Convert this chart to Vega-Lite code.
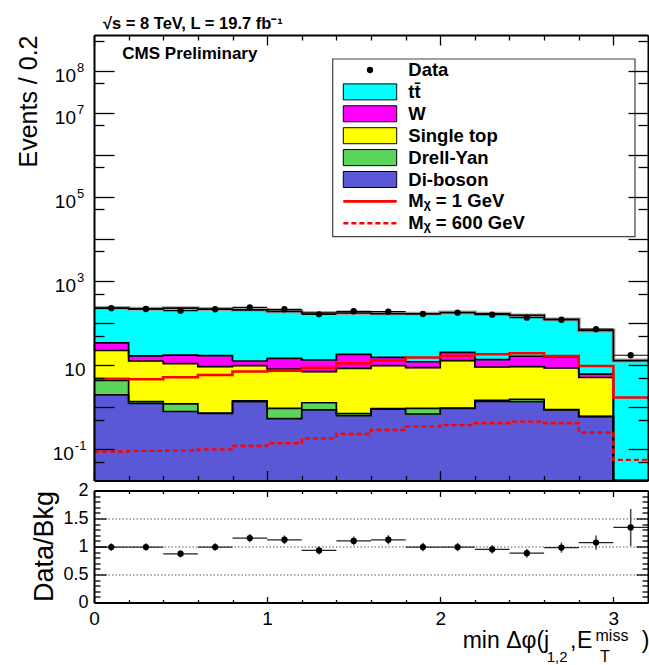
{
  "$schema": "https://vega.github.io/schema/vega-lite/v6.json",
  "autosize": {"type": "none"},
  "padding": {"left": 94, "top": 35, "right": 555, "bottom": 630},
  "background": "white",
  "config": {
    "font": "Liberation Sans",
    "view": {"stroke": null},
    "axis": {
      "labelFont": "Liberation Sans", "titleFont": "Liberation Sans",
      "labelColor": "black", "titleColor": "black", "domainColor": "black", "tickColor": "black",
      "titleFontWeight": "normal", "grid": false, "labelFlush": false, "labelOverlap": false,
      "domainWidth": 2, "tickWidth": 1.3
    }
  },
  "datasets": {
    "bins": [
      {"x0": 0.0, "x1": 0.2, "xc": 0.1, "diboson": 1.93, "drellyan": 2.33, "singletop": 17.8, "wjets": 11.5, "ttbar": 191.4, "data": 223, "m1": 4.68, "m600": 0.087, "ratio": 0.99, "rlo": 0.924, "rhi": 1.056},
      {"x0": 0.2, "x1": 0.4, "xc": 0.3, "diboson": 1.22, "drellyan": 0.13, "singletop": 11.05, "wjets": 4.1, "ttbar": 199.5, "data": 214, "m1": 4.55, "m600": 0.090, "ratio": 0.99, "rlo": 0.922, "rhi": 1.058},
      {"x0": 0.4, "x1": 0.6, "xc": 0.5, "diboson": 0.78, "drellyan": 0.40, "singletop": 9.6, "wjets": 6.4, "ttbar": 206.8, "data": 195, "m1": 5.08, "m600": 0.092, "ratio": 0.87, "rlo": 0.808, "rhi": 0.932},
      {"x0": 0.6, "x1": 0.8, "xc": 0.7, "diboson": 0.70, "drellyan": 0.01, "singletop": 8.37, "wjets": 7.5, "ttbar": 196.4, "data": 211, "m1": 5.76, "m600": 0.098, "ratio": 0.99, "rlo": 0.922, "rhi": 1.058},
      {"x0": 0.8, "x1": 1.0, "xc": 0.9, "diboson": 1.33, "drellyan": 0.07, "singletop": 8.19, "wjets": 2.81, "ttbar": 191.6, "data": 235, "m1": 6.98, "m600": 0.118, "ratio": 1.15, "rlo": 1.075, "rhi": 1.225},
      {"x0": 1.0, "x1": 1.2, "xc": 1.1, "diboson": 0.53, "drellyan": 0.40, "singletop": 7.07, "wjets": 6.4, "ttbar": 173.6, "data": 211, "m1": 7.29, "m600": 0.137, "ratio": 1.12, "rlo": 1.043, "rhi": 1.197},
      {"x0": 1.2, "x1": 1.4, "xc": 1.3, "diboson": 0.85, "drellyan": 0.41, "singletop": 5.64, "wjets": 6.2, "ttbar": 158.9, "data": 160, "m1": 8.60, "m600": 0.180, "ratio": 0.93, "rlo": 0.856, "rhi": 1.004},
      {"x0": 1.4, "x1": 1.6, "xc": 1.5, "diboson": 0.62, "drellyan": 0.08, "singletop": 7.62, "wjets": 9.6, "ttbar": 154.1, "data": 189, "m1": 10.9, "m600": 0.228, "ratio": 1.10, "rlo": 1.02, "rhi": 1.18},
      {"x0": 1.6, "x1": 1.8, "xc": 1.7, "diboson": 0.89, "drellyan": 0.02, "singletop": 8.68, "wjets": 5.6, "ttbar": 149.8, "data": 185, "m1": 12.8, "m600": 0.283, "ratio": 1.12, "rlo": 1.038, "rhi": 1.202},
      {"x0": 1.8, "x1": 2.0, "xc": 1.9, "diboson": 0.68, "drellyan": 0.25, "singletop": 7.67, "wjets": 3.3, "ttbar": 153.1, "data": 163, "m1": 15.0, "m600": 0.340, "ratio": 0.99, "rlo": 0.913, "rhi": 1.067},
      {"x0": 2.0, "x1": 2.2, "xc": 2.1, "diboson": 0.92, "drellyan": 0.02, "singletop": 11.66, "wjets": 7.4, "ttbar": 157.0, "data": 175, "m1": 16.5, "m600": 0.373, "ratio": 0.99, "rlo": 0.915, "rhi": 1.065},
      {"x0": 2.2, "x1": 2.4, "xc": 2.3, "diboson": 1.35, "drellyan": 0.09, "singletop": 7.49, "wjets": 4.4, "ttbar": 151.7, "data": 157, "m1": 18.0, "m600": 0.409, "ratio": 0.95, "rlo": 0.874, "rhi": 1.026},
      {"x0": 2.4, "x1": 2.6, "xc": 2.5, "diboson": 1.33, "drellyan": 0.18, "singletop": 7.57, "wjets": 7.0, "ttbar": 134.9, "data": 133, "m1": 18.9, "m600": 0.447, "ratio": 0.88, "rlo": 0.804, "rhi": 0.956},
      {"x0": 2.6, "x1": 2.8, "xc": 2.7, "diboson": 0.85, "drellyan": 0.01, "singletop": 7.6, "wjets": 7.0, "ttbar": 105.5, "data": 119, "m1": 16.3, "m600": 0.409, "ratio": 0.98, "rlo": 0.89, "rhi": 1.07},
      {"x0": 2.8, "x1": 3.0, "xc": 2.9, "diboson": 0.59, "drellyan": 0.01, "singletop": 4.42, "wjets": 1.0, "ttbar": 60.4, "data": 71, "m1": 9.44, "m600": 0.247, "ratio": 1.07, "rlo": 0.943, "rhi": 1.197},
      {"x0": 3.0, "x1": 3.2, "xc": 3.1, "diboson": 0.004, "drellyan": 0.004, "singletop": 0.004, "wjets": 0.004, "ttbar": 12.7, "data": 17, "m1": 1.68, "m600": 0.055, "ratio": 1.34, "rlo": 1.01, "rhi": 1.67}
    ],
    "legend": [
      {"label": "Data", "key": "data", "kind": "marker"},
      {"label": "tt̄", "key": "ttbar", "kind": "box"},
      {"label": "W", "key": "wjets", "kind": "box"},
      {"label": "Single top", "key": "singletop", "kind": "box"},
      {"label": "Drell-Yan", "key": "drellyan", "kind": "box"},
      {"label": "Di-boson", "key": "diboson", "kind": "box"},
      {"label": "Mᵪ = 1 GeV", "key": "m1", "kind": "line"},
      {"label": "Mᵪ = 600 GeV", "key": "m600", "kind": "dash"}
    ]
  },
  "spacing": 9.5,
  "bounds": "flush",
  "vconcat": [
    {
      "width": 554,
      "height": 445.5,
      "layer": [
        {
          "layer": [
            {
              "data": {"name": "bins"},
              "transform": [
                {"fold": ["diboson", "drellyan", "singletop", "wjets", "ttbar"], "as": ["process", "n"]},
                {"stack": "n", "groupby": ["x0"], "as": ["lo", "hi"]}
              ],
              "mark": {"type": "rect", "strokeWidth": 0.8},
              "encoding": {
                "x": {"field": "x0", "type": "quantitative", "scale": {"domain": [0, 3.2], "nice": false, "zero": false},
                  "axis": {"orient": "bottom", "values": [0, 0.2, 0.4, 0.6, 0.8, 1, 1.2, 1.4, 1.6, 1.8, 2, 2.2, 2.4, 2.6, 2.8, 3],
                    "tickSize": {"condition": {"test": "abs(datum.value - round(datum.value)) < 0.001", "value": -10}, "value": -5},
                    "labels": false, "title": null, "zindex": 1}},
                "x2": {"field": "x1"},
                "y": {"field": "lo", "type": "quantitative", "scale": {"type": "log", "domain": [0.0178, 708000000], "nice": false, "clamp": true},
                  "axis": {"orient": "left",
                    "values": [0.05, 0.1, 0.5, 1, 5, 10, 50, 100, 500, 1000, 5000, 10000, 50000, 100000, 500000, 1000000, 5000000, 10000000, 50000000, 100000000, 500000000],
                    "tickSize": {"condition": {"test": "abs(log(datum.value)/LN10 - round(log(datum.value)/LN10)) < 0.01", "value": -20}, "value": -10},
                    "labelExpr": "(datum.value == 0.1 || datum.value == 10 || datum.value == 1000 || datum.value == 100000 || datum.value == 10000000 || datum.value == 100000000) ? '10' : ''",
                    "labelFontSize": 19, "labelBaseline": "alphabetic", "labelAlign": "right", "labelOffset": 10.5,
                    "labelPadding": {"condition": [{"test": "datum.value == 0.1", "value": 40.7}, {"test": "datum.value == 10", "value": 29}], "value": 38.5},
                    "title": "Events / 0.2", "titleFontSize": 25, "titleAngle": 270, "titleAlign": "right", "titleBaseline": "alphabetic", "titleX": -58, "titleY": 0,
                    "zindex": 1}},
                "y2": {"field": "hi"},
                "color": {"field": "process", "type": "nominal",
                  "scale": {"domain": ["diboson", "drellyan", "singletop", "wjets", "ttbar"], "range": ["#5a58d6", "#5bd55b", "#ffff00", "#ff00ff", "#00ffff"]},
                  "legend": null},
                "stroke": {"field": "process", "type": "nominal",
                  "scale": {"domain": ["diboson", "drellyan", "singletop", "wjets", "ttbar"], "range": ["#5a58d6", "#5bd55b", "#ffff00", "#ff00ff", "#00ffff"]},
                  "legend": null}
              }
            },
            {
              "data": {"name": "bins"},
              "transform": [
                {"fold": ["diboson", "drellyan", "singletop", "wjets", "ttbar"], "as": ["process", "n"]},
                {"stack": "n", "groupby": ["x0"], "as": ["lo", "hi"]},
                {"filter": "datum.process == 'ttbar'"},
                {"fold": ["x0", "x1"], "as": ["edge", "xe"]}
              ],
              "mark": {"type": "line", "color": "#a0a0a0", "strokeWidth": 4},
              "encoding": {
                "x": {"field": "xe", "type": "quantitative", "axis": null},
                "y": {"field": "hi", "type": "quantitative",
                  "axis": {"orient": "left", "values": [0.1, 1000, 100000, 10000000, 100000000],
                    "ticks": false, "tickSize": 0, "domain": false, "title": null,
                    "labelExpr": "datum.value == 0.1 ? '-1' : datum.value == 1000 ? '3' : datum.value == 100000 ? '5' : datum.value == 10000000 ? '7' : '8'",
                    "labelFontSize": 13, "labelAlign": "left", "labelBaseline": "alphabetic", "labelOffset": 0.5,
                    "labelPadding": {"condition": {"test": "datum.value == 0.1", "value": 19.7}, "value": 17.5},
                    "zindex": 1}},
                "order": [{"field": "xe", "type": "quantitative"}, {"field": "edge", "type": "nominal", "sort": "descending"}]
              }
            },
            {
              "data": {"name": "bins"},
              "transform": [
                {"fold": ["diboson", "drellyan", "singletop", "wjets", "ttbar"], "as": ["process", "n"]},
                {"stack": "n", "groupby": ["x0"], "as": ["lo", "hi"]},
                {"fold": ["x0", "x1"], "as": ["edge", "xe"]}
              ],
              "mark": {"type": "line", "color": "black", "strokeWidth": 1.7},
              "encoding": {
                "x": {"field": "xe", "type": "quantitative",
                  "axis": {"orient": "top", "values": [0, 0.2, 0.4, 0.6, 0.8, 1, 1.2, 1.4, 1.6, 1.8, 2, 2.2, 2.4, 2.6, 2.8, 3],
                    "tickSize": {"condition": {"test": "abs(datum.value - round(datum.value)) < 0.001", "value": -10}, "value": -5},
                    "labels": false, "title": null, "zindex": 1}},
                "y": {"field": "hi", "type": "quantitative",
                  "axis": {"orient": "right",
                    "values": [0.05, 0.1, 0.5, 1, 5, 10, 50, 100, 500, 1000, 5000, 10000, 50000, 100000, 500000, 1000000, 5000000, 10000000, 50000000, 100000000, 500000000],
                    "tickSize": {"condition": {"test": "abs(log(datum.value)/LN10 - round(log(datum.value)/LN10)) < 0.01", "value": -20}, "value": -10},
                    "labels": false, "title": null, "zindex": 1}},
                "detail": {"field": "process"},
                "order": [{"field": "xe", "type": "quantitative"}, {"field": "edge", "type": "nominal", "sort": "descending"}]
              }
            },
            {
              "data": {"name": "bins"},
              "transform": [{"fold": ["x0", "x1"], "as": ["edge", "xe"]}],
              "mark": {"type": "line", "color": "#ff0000", "strokeWidth": 2.6},
              "encoding": {
                "x": {"field": "xe", "type": "quantitative", "axis": null},
                "y": {"field": "m1", "type": "quantitative", "axis": null},
                "order": [{"field": "xe", "type": "quantitative"}, {"field": "edge", "type": "nominal", "sort": "descending"}]
              }
            },
            {
              "data": {"name": "bins"},
              "transform": [{"fold": ["x0", "x1"], "as": ["edge", "xe"]}],
              "mark": {"type": "line", "color": "#ff0000", "strokeWidth": 2.4, "strokeDash": [5, 3]},
              "encoding": {
                "x": {"field": "xe", "type": "quantitative", "axis": null},
                "y": {"field": "m600", "type": "quantitative", "axis": null},
                "order": [{"field": "xe", "type": "quantitative"}, {"field": "edge", "type": "nominal", "sort": "descending"}]
              }
            },
            {
              "data": {"name": "bins"},
              "mark": {"type": "rule", "color": "black", "strokeWidth": 1.2},
              "encoding": {
                "x": {"field": "x0", "type": "quantitative", "axis": null},
                "x2": {"field": "x1"},
                "y": {"field": "data", "type": "quantitative", "axis": null}
              }
            },
            {
              "data": {"name": "bins"},
              "mark": {"type": "point", "filled": true, "color": "black", "size": 40, "opacity": 1},
              "encoding": {
                "x": {"field": "xc", "type": "quantitative", "axis": null},
                "y": {"field": "data", "type": "quantitative", "axis": null}
              }
            },
            {
              "data": {"values": [{"t": "CMS Preliminary"}]},
              "mark": {"type": "text", "align": "left", "baseline": "alphabetic", "fontSize": 17, "fontWeight": "bold", "color": "black"},
              "encoding": {
                "x": {"datum": 0.1635, "type": "quantitative", "axis": null},
                "y": {"datum": 187000000, "type": "quantitative", "axis": null},
                "text": {"field": "t"}
              }
            },
            {
              "data": {"values": [{"t": "√s = 8 TeV, L = 19.7 fb⁻¹"}]},
              "mark": {"type": "text", "align": "left", "baseline": "alphabetic", "fontSize": 16.5, "fontWeight": "bold", "color": "black", "dy": -6},
              "encoding": {
                "x": {"datum": 0.052, "type": "quantitative", "axis": null},
                "y": {"datum": 708000000, "type": "quantitative", "axis": null},
                "text": {"field": "t"}
              }
            },
            {
              "data": {"values": [{}]},
              "mark": {"type": "rect", "fill": "white", "stroke": "#444444", "strokeWidth": 1.2},
              "encoding": {
                "x": {"datum": 1.3788, "type": "quantitative", "axis": null},
                "x2": {"datum": 3.1249},
                "y": {"datum": 190000000, "type": "quantitative", "axis": null},
                "y2": {"datum": 11250}
              }
            }
          ],
          "resolve": {"axis": {"x": "independent", "y": "independent"}}
        },
        {
          "data": {"name": "legend"},
          "layer": [
            {
              "transform": [{"filter": "datum.kind == 'box'"}],
              "mark": {"type": "point", "shape": "M-1,-0.3H1V0.3H-1Z", "filled": true, "size": 2852, "stroke": "black", "strokeWidth": 1, "opacity": 1},
              "encoding": {
                "x": {"datum": 1.5942, "type": "quantitative", "axis": null},
                "y": {"field": "label", "type": "nominal", "axis": null,
                  "scale": {"type": "point", "padding": 0, "range": [35, 188.3],
                    "domain": ["Data", "tt̄", "W", "Single top", "Drell-Yan", "Di-boson", "Mᵪ = 1 GeV", "Mᵪ = 600 GeV"]}},
                "color": {"field": "key", "type": "nominal",
                  "scale": {"domain": ["diboson", "drellyan", "singletop", "wjets", "ttbar"], "range": ["#5a58d6", "#5bd55b", "#ffff00", "#ff00ff", "#00ffff"]},
                  "legend": null}
              }
            },
            {
              "transform": [{"filter": "datum.kind == 'line'"}],
              "mark": {"type": "rule", "color": "#ff0000", "strokeWidth": 2.6},
              "encoding": {
                "x": {"datum": 1.4401, "type": "quantitative", "axis": null},
                "x2": {"datum": 1.7485},
                "y": {"field": "label", "type": "nominal", "axis": null}
              }
            },
            {
              "transform": [{"filter": "datum.kind == 'dash'"}],
              "mark": {"type": "rule", "color": "#ff0000", "strokeWidth": 2.4, "strokeDash": [5, 3]},
              "encoding": {
                "x": {"datum": 1.4401, "type": "quantitative", "axis": null},
                "x2": {"datum": 1.7485},
                "y": {"field": "label", "type": "nominal", "axis": null}
              }
            },
            {
              "transform": [{"filter": "datum.kind == 'marker'"}],
              "mark": {"type": "point", "filled": true, "color": "black", "size": 40, "opacity": 1},
              "encoding": {
                "x": {"datum": 1.5942, "type": "quantitative", "axis": null},
                "y": {"field": "label", "type": "nominal", "axis": null}
              }
            },
            {
              "mark": {"type": "text", "align": "left", "baseline": "middle", "fontSize": 18.5, "fontWeight": "bold", "color": "black"},
              "encoding": {
                "x": {"datum": 1.8155, "type": "quantitative", "axis": null},
                "y": {"field": "label", "type": "nominal", "axis": null},
                "text": {"field": "label"}
              }
            }
          ]
        }
      ],
      "resolve": {"scale": {"y": "independent"}, "axis": {"x": "independent", "y": "independent"}}
    },
    {
      "width": 554,
      "height": 112,
      "data": {"name": "bins"},
      "layer": [
        {
          "mark": {"type": "rule", "color": "#222222", "strokeWidth": 1.3},
          "encoding": {
            "x": {"field": "x0", "type": "quantitative", "scale": {"domain": [0, 3.2], "nice": false, "zero": false},
              "axis": {"orient": "bottom", "values": [0, 0.2, 0.4, 0.6, 0.8, 1, 1.2, 1.4, 1.6, 1.8, 2, 2.2, 2.4, 2.6, 2.8, 3],
                "tickSize": {"condition": {"test": "abs(datum.value - round(datum.value)) < 0.001", "value": -6}, "value": -3},
                "labelExpr": "abs(datum.value - round(datum.value)) < 0.001 ? '' + round(datum.value) : ''",
                "labelFontSize": 19, "labelPadding": 12.5, "labelBaseline": "top", "labelAlign": "center",
                "title": null, "zindex": 1}},
            "x2": {"field": "x1"},
            "y": {"field": "ratio", "type": "quantitative", "scale": {"domain": [0, 2], "nice": false, "zero": false},
              "axis": {"orient": "left",
                "values": [0, 0.1, 0.2, 0.3, 0.4, 0.5, 0.6, 0.7, 0.8, 0.9, 1, 1.1, 1.2, 1.3, 1.4, 1.5, 1.6, 1.7, 1.8, 1.9, 2],
                "tickSize": {"condition": {"test": "abs(datum.value*2 - round(datum.value*2)) < 0.001", "value": -12}, "value": -6},
                "labelExpr": "abs(datum.value*2 - round(datum.value*2)) < 0.001 ? '' + round(datum.value*10)/10 : ''",
                "labelFontSize": 18, "labelPadding": 18, "labelBaseline": "middle",
                "title": "Data/Bkg", "titleFontSize": 27, "titleAngle": 270, "titleAlign": "right", "titleBaseline": "alphabetic", "titleX": -41.7, "titleY": 0,
                "zindex": 1}}
          }
        },
        {
          "mark": {"type": "rule", "color": "#444444", "strokeWidth": 1.5},
          "encoding": {
            "x": {"field": "xc", "type": "quantitative",
              "axis": {"orient": "top", "values": [0, 0.2, 0.4, 0.6, 0.8, 1, 1.2, 1.4, 1.6, 1.8, 2, 2.2, 2.4, 2.6, 2.8, 3],
                "tickSize": {"condition": {"test": "abs(datum.value - round(datum.value)) < 0.001", "value": -6}, "value": -3},
                "labels": false, "title": null, "zindex": 1}},
            "y": {"field": "rlo", "type": "quantitative",
              "axis": {"orient": "right",
                "values": [0, 0.1, 0.2, 0.3, 0.4, 0.5, 0.6, 0.7, 0.8, 0.9, 1, 1.1, 1.2, 1.3, 1.4, 1.5, 1.6, 1.7, 1.8, 1.9, 2],
                "tickSize": {"condition": {"test": "abs(datum.value*2 - round(datum.value*2)) < 0.001", "value": -12}, "value": -6},
                "labels": false, "title": null, "zindex": 1}},
            "y2": {"field": "rhi"}
          }
        },
        {
          "mark": {"type": "point", "filled": true, "color": "black", "size": 40, "opacity": 1},
          "encoding": {
            "x": {"field": "xc", "type": "quantitative", "axis": null},
            "y": {"field": "ratio", "type": "quantitative",
              "axis": {"orient": "left", "values": [0.5, 1, 1.5], "grid": true, "gridDash": [1.5, 2], "gridColor": "#555555", "gridWidth": 1,
                "ticks": false, "labels": false, "domain": false, "title": null, "zindex": 0}}
          }
        },
        {
          "data": {"values": [{"t": "min Δφ(j"}]},
          "mark": {"type": "text", "align": "left", "baseline": "alphabetic", "fontSize": 23, "color": "black"},
          "encoding": {"x": {"datum": 2.1297, "type": "quantitative", "axis": null}, "y": {"datum": -0.8036, "type": "quantitative", "axis": null}, "text": {"field": "t"}}
        },
        {
          "data": {"values": [{"t": "1,2"}]},
          "mark": {"type": "text", "align": "left", "baseline": "alphabetic", "fontSize": 15, "color": "black"},
          "encoding": {"x": {"datum": 2.6149, "type": "quantitative", "axis": null}, "y": {"datum": -1.0714, "type": "quantitative", "axis": null}, "text": {"field": "t"}}
        },
        {
          "data": {"values": [{"t": ","}]},
          "mark": {"type": "text", "align": "left", "baseline": "alphabetic", "fontSize": 23, "color": "black"},
          "encoding": {"x": {"datum": 2.7495, "type": "quantitative", "axis": null}, "y": {"datum": -0.8036, "type": "quantitative", "axis": null}, "text": {"field": "t"}}
        },
        {
          "data": {"values": [{"t": "E"}]},
          "mark": {"type": "text", "align": "left", "baseline": "alphabetic", "fontSize": 23, "color": "black"},
          "encoding": {"x": {"datum": 2.7899, "type": "quantitative", "axis": null}, "y": {"datum": -0.8036, "type": "quantitative", "axis": null}, "text": {"field": "t"}}
        },
        {
          "data": {"values": [{"t": "miss"}]},
          "mark": {"type": "text", "align": "left", "baseline": "alphabetic", "fontSize": 16, "color": "black"},
          "encoding": {"x": {"datum": 2.8968, "type": "quantitative", "axis": null}, "y": {"datum": -0.6786, "type": "quantitative", "axis": null}, "text": {"field": "t"}}
        },
        {
          "data": {"values": [{"t": "T"}]},
          "mark": {"type": "text", "align": "left", "baseline": "alphabetic", "fontSize": 16, "color": "black"},
          "encoding": {"x": {"datum": 2.9227, "type": "quantitative", "axis": null}, "y": {"datum": -1.0714, "type": "quantitative", "axis": null}, "text": {"field": "t"}}
        },
        {
          "data": {"values": [{"t": ")"}]},
          "mark": {"type": "text", "align": "left", "baseline": "alphabetic", "fontSize": 23, "color": "black"},
          "encoding": {"x": {"datum": 3.1636, "type": "quantitative", "axis": null}, "y": {"datum": -0.8036, "type": "quantitative", "axis": null}, "text": {"field": "t"}}
        }
      ],
      "resolve": {"axis": {"x": "independent", "y": "independent"}}
    }
  ]
}
